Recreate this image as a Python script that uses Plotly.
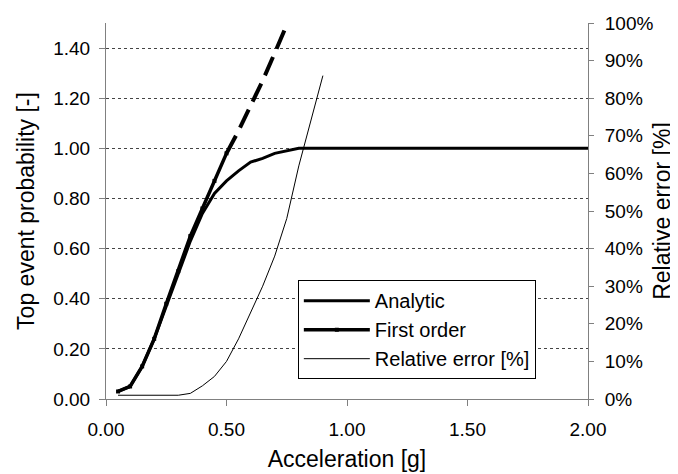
import plotly.graph_objects as go

# Data
accel = [0.05, 0.10, 0.15, 0.20, 0.25, 0.30, 0.35, 0.40, 0.45, 0.50,
         0.55, 0.60, 0.65, 0.70, 0.75, 0.80, 0.85, 0.90, 1.00, 1.25,
         1.50, 1.75, 2.00]
analytic = [0.03, 0.05, 0.13, 0.24, 0.37, 0.50, 0.63, 0.74, 0.82, 0.87,
            0.91, 0.945, 0.96, 0.98, 0.99, 1.00, 1.00, 1.00, 1.00, 1.00,
            1.00, 1.00, 1.00]

fo_x = [0.05, 0.10, 0.15, 0.20, 0.25, 0.30, 0.35, 0.40, 0.45, 0.50,
        0.55, 0.60, 0.65, 0.70, 0.74]
fo_y = [0.03, 0.05, 0.13, 0.24, 0.38, 0.51, 0.65, 0.76, 0.87, 0.98,
        1.07, 1.17, 1.27, 1.38, 1.47]

err_x = [0.05, 0.10, 0.15, 0.20, 0.25, 0.30, 0.35, 0.40, 0.45, 0.50,
         0.55, 0.60, 0.65, 0.70, 0.75, 0.80, 0.85, 0.90]
err_pct = [1, 1, 1, 1, 1, 1, 1.5, 3.5, 6, 10,
           16, 23, 30, 38, 48, 62, 74, 86]

left_ticks = [0.0, 0.2, 0.4, 0.6, 0.8, 1.0, 1.2, 1.4]
right_ticks = [0, 10, 20, 30, 40, 50, 60, 70, 80, 90, 100]
right_labels = [f"{v}%" for v in right_ticks]
x_ticks = [0.0, 0.5, 1.0, 1.5, 2.0]

SPLIT = 0.50  # first-order curve drawn dashed beyond this acceleration
solid_x = [x for x in fo_x if x <= SPLIT]
solid_y = [y for x, y in zip(fo_x, fo_y) if x <= SPLIT]
dash_x = [x for x in fo_x if x >= SPLIT]
dash_y = [y for x, y in zip(fo_x, fo_y) if x >= SPLIT]

FONT = "Arial, Liberation Sans, sans-serif"
FS = 19

fig = go.Figure()
fig.add_trace(go.Scatter(x=accel, y=analytic, mode="lines", name="Analytic",
                         line=dict(color="black", width=3)))
fig.add_trace(go.Scatter(x=solid_x, y=solid_y, mode="lines+markers", name="First order",
                         line=dict(color="black", width=3.5),
                         marker=dict(symbol="square", size=4, color="black")))
fig.add_trace(go.Scatter(x=dash_x, y=dash_y, mode="lines", name="First order",
                         showlegend=False,
                         line=dict(color="black", width=4, dash="20px,9px")))
fig.add_trace(go.Scatter(x=err_x, y=err_pct, mode="lines", name="Relative error [%]",
                         yaxis="y2", line=dict(color="black", width=1)))

# The page body adds an 8px offset; size the figure so the plot lands where the reference has it.
fig.update_layout(
    width=670, height=466,
    margin=dict(l=98, r=90, t=15, b=75),
    paper_bgcolor="white", plot_bgcolor="white",
    font=dict(family=FONT, size=FS, color="black"),
    xaxis=dict(range=[0, 2], tickmode="array", tickvals=x_ticks, tickformat=".2f",
               showline=True, linecolor="#808080", linewidth=1,
               ticks="outside", ticklen=6, tickcolor="#808080",
               ticklabelstandoff=7,
               showgrid=False, zeroline=False, automargin=False,
               title=dict(text="Acceleration [g]", standoff=12)),
    yaxis=dict(range=[0, 1.5], tickmode="array", tickvals=left_ticks, tickformat=".2f",
               showline=True, linecolor="#808080", linewidth=1,
               ticks="outside", ticklen=6, tickcolor="#808080",
               ticklabelstandoff=5,
               showgrid=True, gridcolor="#444444", griddash="dot", gridwidth=1,
               zeroline=False, automargin=False,
               title=dict(text="Top event probability [-]", standoff=12)),
    yaxis2=dict(range=[0, 100], tickmode="array", tickvals=right_ticks, ticktext=right_labels,
                overlaying="y", side="right",
                showline=True, linecolor="#808080", linewidth=1,
                ticks="outside", ticklen=5, tickcolor="#808080",
                ticklabelstandoff=7,
                showgrid=False, zeroline=False, automargin=False,
                title=dict(text="Relative error [%]", standoff=1)),
    legend=dict(x=0.398, y=0.316, xanchor="left", yanchor="top",
                bgcolor="white", bordercolor="black", borderwidth=1,
                font=dict(size=20), tracegroupgap=0, itemwidth=66),
    showlegend=True,
)

fig.write_html("out.html")
